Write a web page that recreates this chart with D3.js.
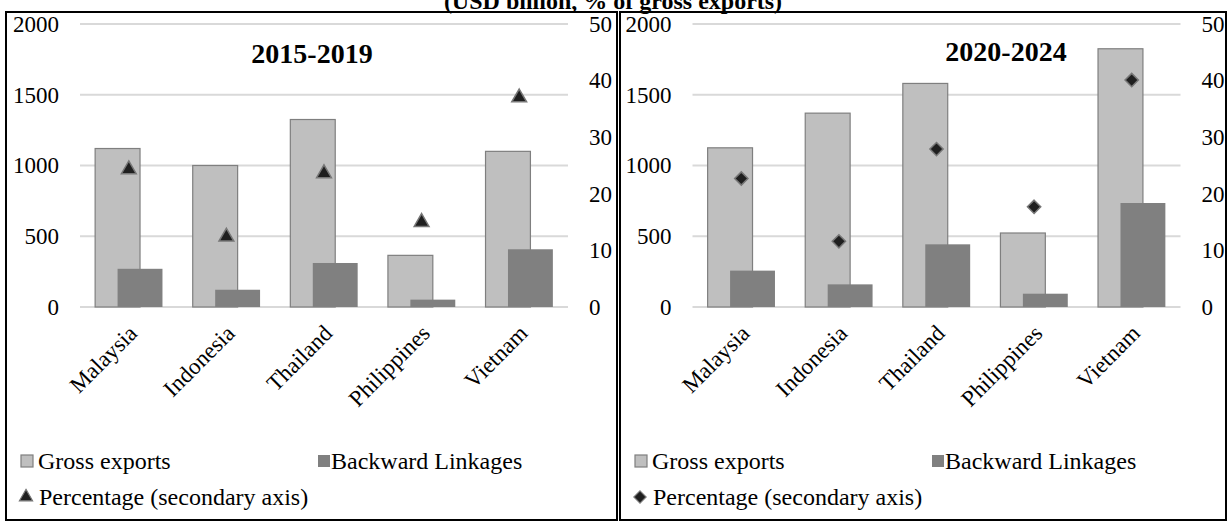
<!DOCTYPE html>
<html>
<head>
<meta charset="utf-8">
<script src="https://cdn.jsdelivr.net/npm/d3@7"></script>
<style>
  html, body { margin: 0; padding: 0; background: #fff; }
  svg { display: block; }
  svg text { font-family: "Liberation Serif", "Times New Roman", Tinos, "DejaVu Serif", serif; fill: #000; }
</style>
</head>
<body>
<svg id="chart" width="1229" height="522"></svg>
<script>
// Categories and series (USD billion; percentage of gross exports)
const categories = ["Malaysia", "Indonesia", "Thailand", "Philippines", "Vietnam"];

const gross2015 = [1120, 1000, 1325, 365, 1100];
const backward2015 = [270, 122, 311, 52, 408];
const pct2015 = [24.3, 12.4, 23.6, 15.0, 37.0];

const gross2020 = [1125, 1370, 1580, 523, 1825];
const backward2020 = [257, 160, 443, 94, 735];
const pct2020 = [22.7, 11.6, 27.9, 17.7, 40.1];

const primaryTicks = [0, 500, 1000, 1500, 2000];
const secondaryTicks = [0, 10, 20, 30, 40, 50];

const chartTitle = "(USD billion, % of gross exports)";
const legendLabels = ["Gross exports", "Backward Linkages", "Percentage (secondary axis)"];

const SERIF = '"Liberation Serif", "Times New Roman", Tinos, "DejaVu Serif", serif';

const svg = d3.select("#chart");

const COL_GROSS = "#bfbfbf", COL_GROSS_EDGE = "#7f7f7f";
const COL_BACK = "#808080";
const COL_GRID = "#d9d9d9";
const COL_MARK = "#1f1f1f", COL_MARK_EDGE = "#777";

// overall title, sitting on the top edge
svg.append("text")
  .attr("x", 613).attr("y", 9)
  .attr("text-anchor", "middle")
  .style("font-family", SERIF)
  .style("font-size", "24px").style("font-weight", "bold")
  .text(chartTitle);

// rotated square used for the 2020-2024 markers
const diamond = {
  draw(context, size) {
    const r = Math.sqrt(size / 2);
    context.moveTo(0, -r);
    context.lineTo(r, 0);
    context.lineTo(0, r);
    context.lineTo(-r, 0);
    context.closePath();
  }
};

const panels = [
  { frame: [6, 617], plot: [80, 568], title: "2015-2019", titleX: 312, titleY: 63,
    gross: gross2015, back: backward2015, pct: pct2015, symbol: d3.symbolTriangle, symSize: 95 },
  { frame: [620, 1226], plot: [692.5, 1180.5], title: "2020-2024", titleX: 1006, titleY: 61,
    gross: gross2020, back: backward2020, pct: pct2020, symbol: diamond, symSize: 88 }
];

const yTop = 24, yBottom = 307;

function styleTicks(sel) {
  sel.selectAll("text")
    .style("font-family", SERIF)
    .style("font-size", "23px")
    .attr("fill", "#000");
}

panels.forEach(p => {
  const g = svg.append("g");

  // frame
  g.append("rect")
    .attr("x", p.frame[0]).attr("y", 12)
    .attr("width", p.frame[1] - p.frame[0]).attr("height", 508)
    .attr("fill", "none").attr("stroke", "#000").attr("stroke-width", 2);

  const x = d3.scaleBand().domain(categories).range(p.plot).padding(0);
  const y = d3.scaleLinear().domain([0, 2000]).range([yBottom, yTop]);
  const y2 = d3.scaleLinear().domain([0, 50]).range([yBottom, yTop]);

  // gridlines
  g.selectAll(".grid").data(primaryTicks).join("line")
    .attr("x1", p.plot[0]).attr("x2", p.plot[1])
    .attr("y1", d => y(d)).attr("y2", d => y(d))
    .attr("stroke", COL_GRID).attr("stroke-width", 2);

  // primary axis
  const axL = g.append("g")
    .attr("transform", `translate(${p.plot[0] - 21},0)`)
    .call(d3.axisLeft(y).tickValues(primaryTicks).tickFormat(d3.format("d")).tickSize(0).tickPadding(0));
  axL.select(".domain").remove();
  styleTicks(axL);

  // secondary axis
  const axR = g.append("g")
    .attr("transform", `translate(${p.plot[1] + 21},0)`)
    .call(d3.axisRight(y2).tickValues(secondaryTicks).tickFormat(d3.format("d")).tickSize(0).tickPadding(0));
  axR.select(".domain").remove();
  styleTicks(axR);

  const bw = x.bandwidth() * 0.46;
  const cx = d => x(d) + x.bandwidth() / 2;

  // gross exports bars
  g.selectAll(".gross").data(categories).join("rect")
    .attr("x", (d) => cx(d) - bw * 0.75)
    .attr("y", (d, i) => y(p.gross[i]))
    .attr("width", bw)
    .attr("height", (d, i) => yBottom - y(p.gross[i]))
    .attr("fill", COL_GROSS).attr("stroke", COL_GROSS_EDGE).attr("stroke-width", 1.2);

  // backward linkage bars
  g.selectAll(".back").data(categories).join("rect")
    .attr("x", (d) => cx(d) - bw * 0.25)
    .attr("y", (d, i) => y(p.back[i]))
    .attr("width", bw)
    .attr("height", (d, i) => yBottom - y(p.back[i]))
    .attr("fill", COL_BACK);

  // percentage markers on the secondary axis
  const sym = d3.symbol().type(p.symbol).size(p.symSize);
  g.selectAll(".pct").data(categories).join("path")
    .attr("d", sym)
    .attr("transform", (d, i) => `translate(${cx(d)},${y2(p.pct[i])})`)
    .attr("fill", COL_MARK).attr("stroke", COL_MARK_EDGE).attr("stroke-width", 1.5);

  // category labels
  g.selectAll(".xl").data(categories).join("text")
    .attr("transform", d => `translate(${cx(d) + 4},${yBottom + 22}) rotate(-45)`)
    .attr("text-anchor", "end")
    .attr("dy", "0.35em")
    .style("font-family", SERIF)
    .style("font-size", "23px")
    .text(d => d);

  // panel title
  g.append("text")
    .attr("x", p.titleX).attr("y", p.titleY)
    .attr("text-anchor", "middle")
    .style("font-family", SERIF)
    .style("font-size", "28px").style("font-weight", "bold")
    .text(p.title);

  // legend
  const lx = p.frame[0];
  const row1 = 461, row2 = 497;
  g.append("rect").attr("x", lx + 15).attr("y", row1 - 6).attr("width", 12).attr("height", 12)
    .attr("fill", COL_GROSS).attr("stroke", COL_GROSS_EDGE).attr("stroke-width", 1.2);
  g.append("text").attr("x", lx + 32).attr("y", row1).attr("dy", "0.35em")
    .style("font-family", SERIF).style("font-size", "24px").text(legendLabels[0]);
  g.append("rect").attr("x", lx + 312).attr("y", row1 - 6).attr("width", 12).attr("height", 12)
    .attr("fill", COL_BACK);
  g.append("text").attr("x", lx + 325).attr("y", row1).attr("dy", "0.35em")
    .style("font-family", SERIF).style("font-size", "24px").text(legendLabels[1]);
  g.append("path").attr("d", d3.symbol().type(p.symbol).size(75))
    .attr("transform", `translate(${lx + 20},${row2})`)
    .attr("fill", COL_MARK).attr("stroke", COL_MARK_EDGE).attr("stroke-width", 1.2);
  g.append("text").attr("x", lx + 33).attr("y", row2).attr("dy", "0.35em")
    .style("font-family", SERIF).style("font-size", "24px").text(legendLabels[2]);
});
</script>
</body>
</html>
